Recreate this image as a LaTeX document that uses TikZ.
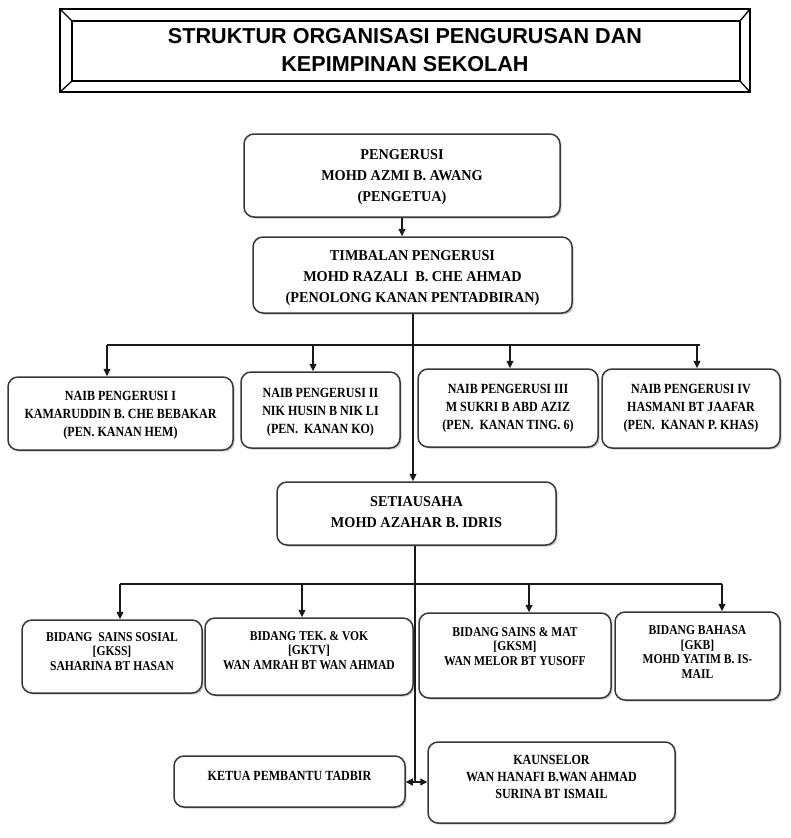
\documentclass[tikz,border=0pt]{standalone}
\usepackage{fontspec}
\setmainfont{Liberation Serif}
\newfontfamily\titlefont{Liberation Sans}
\newfontfamily\bigboxfont{Liberation Serif}[FakeStretch=0.95]
\newfontfamily\smallboxfont{Liberation Serif}[FakeStretch=0.86]
\usetikzlibrary{arrows.meta,shadows}
\tikzset{
  obox/.style={draw=black!78, line width=1.5pt, rounded corners=10pt, fill=white, inner sep=0pt,
    drop shadow={shadow xshift=1.6pt, shadow yshift=-1.6pt, fill=black!35, opacity=0.6}},
  bigtxt/.style={align=center, inner sep=0pt, font=\bigboxfont\bfseries\fontsize{15}{21}\selectfont},
  naibtxt/.style={align=center, inner sep=0pt, font=\smallboxfont\bfseries\fontsize{14}{18}\selectfont},
  bidtxt/.style={align=center, inner sep=0pt, font=\smallboxfont\bfseries\fontsize{13.5}{14.8}\selectfont},
  kautxt/.style={align=center, inner sep=0pt, font=\smallboxfont\bfseries\fontsize{14}{17}\selectfont},
  linkline/.style={draw=black!90, line width=1.4pt},
  linkarrow/.style={linkline, -{Triangle[length=7.5pt,width=7pt]}},
  linkboth/.style={linkline, {Triangle[length=7pt,width=7pt]}-{Triangle[length=7pt,width=7pt]}}
}
\newcommand\orgbox[8]{%
  \node[obox, minimum width={(#4-#2)*1pt}, minimum height={(#5-#3)*1pt}] (#1) at ({(#2+#4)/2},{(#3+#5)/2}) {};
  \node[#7] (#1-t) at ({(#2+#4)/2},#6) {#8};}
\begin{document}
\begin{tikzpicture}[x=1pt,y=-1pt]
\useasboundingbox (0,0) rectangle (790,838);
% title frame
\draw[line width=2.8pt] (60,9) rectangle (750,92);
\draw[line width=2pt] (72,21) rectangle (740,81);
\draw[line width=1.3pt] (60,9) -- (72,21) (750,9) -- (740,21) (60,92) -- (72,81) (750,92) -- (740,81);
\node[align=center, inner sep=0pt, font=\titlefont\bfseries\fontsize{21.6}{27.5}\selectfont] (title) at (405,50) {STRUKTUR ORGANISASI PENGURUSAN DAN\\KEPIMPINAN SEKOLAH};

% boxes
\orgbox{peng}{244}{134}{560}{217}{177.5}{bigtxt}{PENGERUSI\\MOHD AZMI B. AWANG\\(PENGETUA)}
\orgbox{timb}{253}{237}{572}{313}{278}{bigtxt}{TIMBALAN PENGERUSI\\MOHD RAZALI\ \ B. CHE AHMAD\\(PENOLONG KANAN PENTADBIRAN)}
\orgbox{naib1}{8}{377}{233}{450}{415.5}{naibtxt}{NAIB PENGERUSI I\\KAMARUDDIN B. CHE BEBAKAR\\(PEN. KANAN HEM)}
\orgbox{naib2}{241}{372}{400}{448}{412.5}{naibtxt}{NAIB PENGERUSI II\\NIK HUSIN B NIK LI\\(PEN.\ \ KANAN KO)}
\orgbox{naib3}{418}{369}{598}{447}{408.5}{naibtxt}{NAIB PENGERUSI III\\M SUKRI B ABD AZIZ\\(PEN.\ \ KANAN TING. 6)}
\orgbox{naib4}{602}{369}{780}{448}{408.5}{naibtxt}{NAIB PENGERUSI IV\\HASMANI BT JAAFAR\\(PEN.\ \ KANAN P. KHAS)}
\orgbox{seti}{277}{482}{556}{545}{512.5}{bigtxt}{SETIAUSAHA\\MOHD AZAHAR B. IDRIS}
\orgbox{bid1}{22}{620}{202}{693}{651.5}{bidtxt}{BIDANG\ \ SAINS SOSIAL\\{}[GKSS]\\SAHARINA BT HASAN}
\orgbox{bid2}{205}{618}{413}{695}{650.5}{bidtxt}{BIDANG TEK. \& VOK\\{}[GKTV]\\WAN AMRAH BT WAN AHMAD}
\orgbox{bid3}{419}{613}{611}{698}{646.5}{bidtxt}{BIDANG SAINS \& MAT\\{}[GKSM]\\WAN MELOR BT YUSOFF}
\orgbox{bid4}{615}{612}{780}{700}{652}{bidtxt}{BIDANG BAHASA\\{}[GKB]\\MOHD YATIM B. IS-\\MAIL}
\orgbox{ketua}{174}{756}{405}{807}{776}{kautxt}{KETUA PEMBANTU TADBIR}
\orgbox{kaun}{428}{742}{675}{823}{776.5}{kautxt}{KAUNSELOR\\WAN HANAFI B.WAN AHMAD\\SURINA BT ISMAIL}

% connectors
\draw[linkarrow] (peng.south) -- (peng.south |- timb.north);
\coordinate (t) at (413,345);
\draw[linkarrow] (timb.south -| t) -- (t |- seti.north);
\coordinate (h1l) at (107,345);
\coordinate (h1r) at (700,345);
\coordinate (a2) at (313,345);
\coordinate (a3) at (510,345);
\coordinate (a4) at (697,345);
\draw[linkline] (h1l) -- (h1r);
\draw[linkarrow] (h1l) -- (h1l |- naib1.north);
\draw[linkarrow] (a2) -- (a2 |- naib2.north);
\draw[linkarrow] (a3) -- (a3 |- naib3.north);
\draw[linkarrow] (a4) -- (a4 |- naib4.north);
\coordinate (k) at (415,782);
\draw[linkline] (seti.south -| k) -- (k);
\coordinate (h2l) at (120,584);
\coordinate (h2r) at (722,584);
\coordinate (b2) at (302,584);
\coordinate (b3) at (529,584);
\draw[linkline] (h2l) -- (h2r);
\draw[linkarrow] (h2l) -- (h2l |- bid1.north);
\draw[linkarrow] (b2) -- (b2 |- bid2.north);
\draw[linkarrow] (b3) -- (b3 |- bid3.north);
\draw[linkarrow] (h2r) -- (h2r |- bid4.north);
\draw[linkboth] (ketua.east |- k) -- (kaun.west |- k);
\end{tikzpicture}
\end{document}
